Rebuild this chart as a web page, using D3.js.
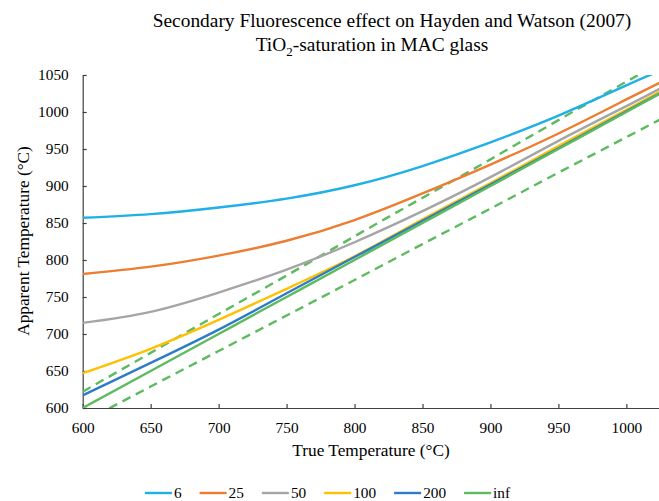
<!DOCTYPE html>
<html>
<head>
<meta charset="utf-8">
<script src="https://cdn.jsdelivr.net/npm/d3@7"></script>
<style>
  body { margin: 0; background: #fff; }
  svg { display: block; }
  svg text { font-family: "Liberation Serif", "Times New Roman", serif; }
</style>
</head>
<body>
<svg width="659" height="501"></svg>
<script>
// values (°C)
const trueTemps = [600, 650, 700, 750, 800, 850, 900, 950, 1000, 1025];
const series6   = [857, 862, 871, 883, 901, 927, 959, 995, 1036, 1056];
const series25  = [781, 791, 806, 826, 854, 890, 929, 971, 1017, 1040];
const series50  = [715, 730, 756, 787, 824, 866, 912, 961, 1008, 1032];
const series100 = [647, 680, 719, 761, 805, 855, 904, 954, 1003, 1028];
const series200 = [617, 661, 706, 755, 804, 853, 902, 951, 1001, 1025.5];
const seriesInf = [600, 650, 700, 750, 800, 850, 900, 950, 1000, 1025];
const upperBound = [622, 674.5, 727, 779, 832, 884, 936, 989, 1041, 1067];
const lowerBound = [580.5, 629, 677, 725, 773, 821.5, 869.5, 918, 966, 990];

const seriesNames = ['6', '25', '50', '100', '200', 'inf'];
const xTicks = [600, 650, 700, 750, 800, 850, 900, 950, 1000];
const yTicks = [600, 650, 700, 750, 800, 850, 900, 950, 1000, 1050];

const colors = ['#1EB0E6', '#ED7D31', '#A5A5A5', '#FFC000', '#2E7CC6', '#5DBB5F'];
const allSeries = [series6, series25, series50, series100, series200, seriesInf];

const margin = {top: 75, right: 0, bottom: 93, left: 82.7};
const width = 659 - margin.left - margin.right;
const height = 501 - margin.top - margin.bottom;

const svg = d3.select('svg');
const g = svg.append('g')
    .attr('transform', 'translate(' + margin.left + ',' + margin.top + ')');

const x = d3.scaleLinear().domain([600, 1024]).range([0, width]);
const y = d3.scaleLinear().domain([600, 1050]).range([height, 0]);

// clip the lines to the plot area
g.append('clipPath').attr('id', 'plot-clip')
  .append('rect')
    .attr('width', width)
    .attr('height', height);

// axes, ticks inside
const xAxis = g.append('g')
    .attr('transform', 'translate(0,' + height + ')')
    .call(d3.axisBottom(x).tickValues(xTicks).tickFormat(d3.format('d'))
      .tickSize(-4).tickPadding(14).tickSizeOuter(0));
const yAxis = g.append('g')
    .call(d3.axisLeft(y).tickValues(yTicks).tickFormat(d3.format('d'))
      .tickSize(-4).tickPadding(14).tickSizeOuter(0));

[xAxis, yAxis].forEach(ax => {
  ax.attr('font-family', null).attr('font-size', null);
  ax.select('.domain').attr('stroke', '#404040').attr('stroke-width', 1.2);
  ax.selectAll('.tick line').attr('stroke', '#404040').attr('stroke-width', 1.2);
  ax.selectAll('.tick text')
      .attr('fill', '#000')
      .style('font-size', '15.3px');
});

const line = d3.line()
    .x((d, i) => x(trueTemps[i]))
    .y(d => y(d))
    .curve(d3.curveNatural);

const lines = g.append('g').attr('clip-path', 'url(#plot-clip)');

// dashed bounds
[upperBound, lowerBound].forEach(b => {
  lines.append('path')
      .datum(b)
      .attr('d', line)
      .attr('fill', 'none')
      .attr('stroke', colors[5])
      .attr('stroke-width', 2.4)
      .attr('stroke-dasharray', '9,6');
});

allSeries.forEach((s, i) => {
  lines.append('path')
      .datum(s)
      .attr('d', line)
      .attr('fill', 'none')
      .attr('stroke', colors[i])
      .attr('stroke-width', 2.4);
});

// titles
const title = svg.append('text')
    .attr('text-anchor', 'middle')
    .style('font-size', '19.4px')
    .attr('fill', '#000');
title.append('tspan').attr('x', 392).attr('y', 27)
    .text('Secondary Fluorescence effect on Hayden and Watson (2007)');
const t2 = title.append('tspan').attr('x', 372).attr('y', 51);
t2.append('tspan').text('TiO');
t2.append('tspan').attr('dy', 5).style('font-size', '13px').text('2');
t2.append('tspan').attr('dy', -5).text('-saturation in MAC glass');

svg.append('text')
    .attr('x', 371)
    .attr('y', 456)
    .attr('text-anchor', 'middle')
    .style('font-size', '17.3px')
    .text('True Temperature (°C)');

svg.append('text')
    .attr('transform', 'translate(29,241) rotate(-90)')
    .attr('text-anchor', 'middle')
    .style('font-size', '17.3px')
    .text('Apparent Temperature (°C)');

// legend
const legend = svg.append('g').attr('transform', 'translate(0,493)');
const items = legend.selectAll('g')
    .data(seriesNames)
    .enter()
    .append('g');
items.append('line')
    .attr('x1', 0).attr('x2', 27)
    .attr('stroke', (d, i) => colors[i])
    .attr('stroke-width', 2.4);
items.append('text')
    .attr('x', 29)
    .attr('dy', '0.33em')
    .style('font-size', '15.3px')
    .text(d => d);

let pos = 0;
const offsets = [];
items.each(function() {
  const w = this.querySelector('text').getComputedTextLength();
  offsets.push(pos);
  pos += 29 + w + 18;
});
const total = pos - 18;
const start = 327.5 - total / 2;
items.attr('transform', (d, i) => 'translate(' + (start + offsets[i]) + ',0)');
</script>
</body>
</html>
